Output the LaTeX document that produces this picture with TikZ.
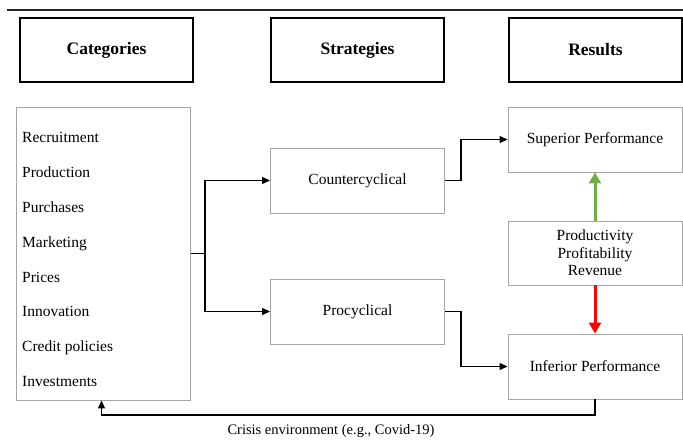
\documentclass[tikz,border=0pt]{standalone}
\usepackage{fontspec}
\setmainfont{Liberation Serif}
\usetikzlibrary{arrows.meta,positioning,calc}
\definecolor{boxgray}{HTML}{A6A6A6}
\definecolor{upgreen}{HTML}{70AD47}
\definecolor{downred}{HTML}{FF0000}
\tikzset{
  head/.style={draw=black, line width=1.8pt, minimum width=173pt, minimum height=64pt,
    font=\fontsize{17.5}{20}\selectfont\bfseries, inner sep=0pt},
  gbox/.style={draw=boxgray, line width=0.9pt, minimum width=174pt, minimum height=65pt,
    font=\fontsize{15.5}{17.5}\selectfont, align=center, inner sep=0pt},
  item/.style={anchor=west, font=\fontsize{15.5}{17.5}\selectfont, inner sep=0pt,
    text height=10.5pt, text depth=3.5pt},
  conn/.style={draw=black, line width=1.2pt},
  arr/.style={conn, -{Triangle[length=8pt,width=7pt]}},
  bigarr/.style={line width=3pt, -{Triangle[length=11pt,width=12pt]}}
}
\begin{document}
\begin{tikzpicture}[x=1pt,y=-1pt]
\useasboundingbox (0,0) rectangle (683,447);
\draw[line width=1.5pt, black!85] (7,10) -- (683,10);

\node[head] (hcat) at (106.5,50) {Categories};
\node[head] (hstr) at (357.5,50) {Strategies};
\node[head] (hres) at (595.5,50) {Results};

\node[gbox, minimum height=293pt] (cat) at (103.5,253.5) {};
\node[item] (i1) at (22,138.5) {Recruitment};
\node[item] (i2) at (22,173.5) {Production};
\node[item] (i3) at (22,208.5) {Purchases};
\node[item] (i4) at (22,243.5) {Marketing};
\node[item] (i5) at (22,278.5) {Prices};
\node[item] (i6) at (22,312.5) {Innovation};
\node[item] (i7) at (22,347.5) {Credit policies};
\node[item] (i8) at (22,382.5) {Investments};

\node[gbox] (counter) at (357.5,180.5) {Countercyclical};
\node[gbox] (pro) at (357.5,311.5) {Procyclical};

\node[gbox] (sup) at (595,139.5) {Superior Performance};
\node[gbox, minimum height=64pt] (prod) at (595,253) {Productivity\\Profitability\\Revenue};
\node[gbox] (inf) at (595,366.5) {Inferior Performance};

\coordinate (j) at (205,253.5);
\draw[conn] (cat.east) -- (j);
\draw[arr] (j) |- (counter.west);
\draw[arr] (j) |- (pro.west);

\draw[arr] (counter.east) -- ++(16,0) |- (sup.west);
\draw[arr] (pro.east) -- ++(16,0) |- (inf.west);

\draw[bigarr, upgreen] (prod.north) -- (sup.south);
\draw[bigarr, downred] (prod.south) -- (inf.north);

\coordinate (fb) at (101.5,415);
\draw[arr] (inf.south) |- (fb) -- (fb |- cat.south);
\node[font=\fontsize{14.5}{17.5}\selectfont, inner sep=0pt] (crisis) at (331,431) {Crisis environment (e.g., Covid-19)};
\end{tikzpicture}
\end{document}
